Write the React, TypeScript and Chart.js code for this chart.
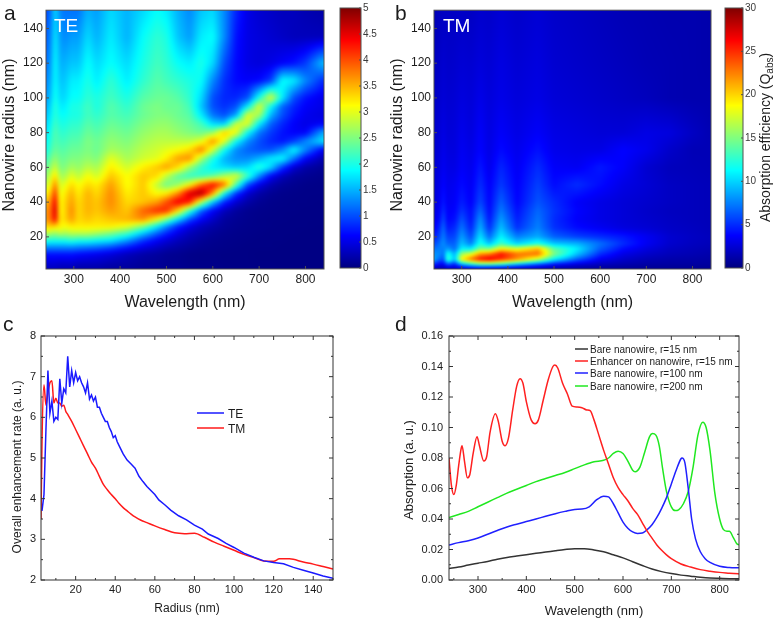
import React, { useEffect, useRef } from "react";
import { Chart, registerables } from "chart.js";

Chart.register(...registerables);

// ---------- panel a (TE) ----------
const teWavelengths = [240,250,260,270,280,295,310,330,350,380,415,450,480,500,525,550,575,600,625,650,675,700,725,750,775,800,840];
const teRadii = [2,10,14,18,22,26,30,35,40,45,50,55,60,65,70,75,80,85,90,95,100,110,120,135,150];
const teGrid = [
  [.3,.3,.3,.25,.25,.25,.2,.2,.2,.15,.15,.1,.1,.08,.08,.06,.05,.05,.04,.03,.03,.03,.03,.02,.02,.02,.02],
  [.7,.7,.7,.7,.7,.7,.65,.6,.55,.45,.3,.2,.15,.1,.08,.05,.04,.04,.03,.03,.03,.02,.02,.02,.02,.02,.02],
  [1.3,1.3,1.3,1.3,1.3,1.3,1.25,1.2,1.15,1.0,.75,.5,.35,.25,.18,.12,.08,.06,.05,.04,.03,.03,.03,.02,.02,.02,.02],
  [2.1,2.0,2.0,2.0,2.0,2.1,2.0,2.0,1.9,1.8,1.4,.9,.6,.45,.3,.2,.12,.08,.06,.05,.04,.03,.03,.03,.02,.02,.02],
  [2.8,2.7,2.6,2.8,2.7,2.8,2.8,2.8,2.7,2.5,2.2,1.6,1.1,.8,.5,.3,.2,.12,.08,.06,.05,.04,.03,.03,.03,.02,.02],
  [3.3,3.4,3.3,3.2,3.1,3.2,3.2,3.2,3.2,3.2,3.0,2.5,1.8,1.3,.8,.5,.3,.2,.12,.08,.06,.05,.04,.03,.03,.03,.02],
  [3.6,3.8,4.5,3.2,3.3,3.6,3.3,3.4,3.3,3.4,3.5,3.7,3.1,2.5,1.7,1.0,.6,.35,.15,.1,.07,.05,.04,.04,.03,.03,.03],
  [3.6,3.8,4.7,3.1,3.3,3.7,3.3,3.5,3.4,3.6,3.4,3.9,4.2,4.2,3.3,2.1,1.1,.6,.3,.15,.08,.06,.05,.04,.04,.03,.03],
  [3.4,3.7,4.5,3.1,3.3,3.6,3.3,3.5,3.4,3.7,3.3,3.4,3.6,4.0,4.5,4.3,2.8,1.6,.8,.4,.2,.1,.06,.05,.04,.04,.03],
  [3.1,3.4,4.2,3.0,3.2,3.5,3.2,3.5,3.3,3.7,3.2,3.4,3.1,3.2,3.7,4.6,4.9,3.7,1.9,.9,.4,.2,.1,.06,.05,.04,.04],
  [2.8,3.1,3.8,2.9,3.0,3.3,3.1,3.3,3.2,3.6,3.1,3.4,2.8,2.4,2.6,3.1,3.9,4.4,3.9,2.3,1.0,.5,.25,.12,.08,.05,.04],
  [2.5,2.9,3.3,2.7,2.7,3.0,2.8,3.1,2.9,3.4,3.1,3.4,3.3,2.8,2.3,2.1,2.1,2.3,2.7,3.0,2.2,1.3,.6,.3,.15,.1,.05],
  [2.3,2.6,2.9,2.5,2.5,2.7,2.6,2.8,2.7,3.2,2.9,3.2,3.4,3.6,3.3,2.6,2.1,1.8,1.7,1.6,1.7,2.1,1.7,.9,.4,.2,.1],
  [2.1,2.4,2.6,2.4,2.4,2.5,2.5,2.6,2.5,3.0,2.7,2.9,3.0,3.2,3.6,3.7,2.7,2.0,1.5,1.3,1.3,1.5,1.8,1.9,1.2,.6,.2],
  [1.9,2.2,2.4,2.3,2.3,2.4,2.4,2.5,2.4,2.7,2.6,2.8,2.9,3.0,3.1,3.3,3.8,2.9,1.9,1.3,1.1,1.0,1.0,1.3,1.9,1.3,.5],
  [1.8,2.1,2.3,2.2,2.2,2.3,2.3,2.5,2.4,2.6,2.5,2.7,2.8,2.8,2.8,2.8,3.0,3.7,3.0,1.9,1.3,1.0,.8,.7,.9,1.3,1.8],
  [1.7,2.0,2.3,2.1,2.1,2.2,2.2,2.4,2.3,2.5,2.4,2.6,2.7,2.7,2.6,2.5,2.4,2.6,3.4,3.1,1.9,1.2,.9,.7,.6,.6,1.5],
  [1.6,1.9,2.2,2.0,2.0,2.1,2.1,2.3,2.2,2.4,2.3,2.5,2.6,2.6,2.5,2.4,2.2,1.7,1.6,2.9,3.0,1.8,1.1,.8,.6,.5,.6],
  [1.5,1.8,2.1,1.9,1.9,2.0,2.0,2.2,2.1,2.3,2.2,2.4,2.5,2.5,2.4,2.3,1.8,1.2,1.0,1.4,3.0,2.7,1.5,1.0,.7,.55,.45],
  [1.4,1.7,2.1,1.8,1.8,2.0,2.0,2.2,2.0,2.3,2.1,2.4,2.5,2.4,2.4,2.2,1.6,1.0,.85,1.0,1.8,3.0,1.9,1.1,.8,.6,.5],
  [1.3,1.6,2.0,1.7,1.7,1.9,1.9,2.1,2.0,2.2,2.0,2.3,2.4,2.4,2.3,2.1,1.7,1.0,.8,.8,1.0,2.0,3.0,1.8,1.0,.7,.5],
  [1.2,1.5,1.9,1.6,1.6,1.8,1.8,2.0,1.8,2.1,1.8,2.1,2.3,2.2,2.1,2.0,1.9,1.3,.85,.65,.6,.65,.9,1.9,1.8,1.3,.8],
  [1.1,1.4,1.9,1.5,1.5,1.6,1.6,1.9,1.7,1.9,1.7,2.0,2.2,2.1,1.9,1.8,2.0,1.7,1.0,.65,.5,.45,.5,.6,.7,.9,1.6],
  [1.0,1.3,1.8,1.4,1.3,1.4,1.4,1.7,1.5,1.8,1.5,1.9,2.1,2.0,1.6,1.4,1.8,1.9,1.3,.7,.5,.45,.4,.35,.3,.3,.3],
  [.9,1.2,1.7,1.3,1.2,1.2,1.2,1.5,1.4,1.7,1.5,1.7,1.9,1.8,1.5,1.3,1.6,1.7,1.3,.8,.5,.4,.35,.3,.3,.25,.2],
];

// ---------- panel b (TM) ----------
const tmWavelengths = [240,250,260,270,285,300,320,340,360,385,420,465,500,550,600,650,700,750,800,840];
const tmRadii = [2,4,7,10,13,16,20,25,30,35,40,50,60,70,80,100,120,150];
const tmGrid = [
  [2,1.5,1.5,2,2,2.5,3,3.2,3,2.8,2.2,1.8,1.2,1,.8,.7,.6,.6,.6,.6],
  [5,3.5,3.4,6,4.6,8.5,11,13,13,12,9,6,4,2.6,1.8,1.4,1.1,1,1,.9],
  [9,7,6,13,9.5,19,23,26,27,25,22,17,11,6.5,3.4,2.2,1.6,1.3,1.2,1.1],
  [8,8,7,12,9,16,18,22,23,26,23,23,15,9.5,5,3,2.2,1.7,1.5,1.3],
  [7,7.5,7.5,8.4,7,11,11,15,15,19,18,21,14,10.8,6.4,4,2.8,2,1.7,1.5],
  [5.6,6.8,8,6.6,6.6,9.5,7.5,12,9.5,13,10,12,9.6,9,7,5,3.4,2.3,1.9,1.7],
  [4.4,5.6,7.5,5.6,5.8,8.4,6,10.5,7,11,7.5,8.8,6.6,5.6,5,4.4,3.4,2.4,2,1.8],
  [3.6,4.6,6.8,4.4,5,7.2,4.8,9,5.2,9.5,5.2,7.6,5.2,4,3.4,2.8,2.5,2.1,1.9,1.7],
  [3,3.8,5.8,3.8,4.2,6.2,4.2,8,4.4,8.4,4.6,7.2,5,3.6,3,2.6,2.3,2,1.8,1.7],
  [2.8,3.4,5,3.6,3.8,5.2,4,6.8,4,7.4,4.2,6.8,5.2,3.8,3,2.6,2.2,1.9,1.8,1.7],
  [2.6,3.2,4.4,3.4,3.6,4.6,3.6,5.8,3.8,6.6,3.8,6.2,5,3.6,3,2.6,2.3,2,1.8,1.7],
  [2.5,3,3.8,3.2,3.4,4,3.4,5,3.6,5.4,3.6,5.6,4,5,4,3,2.5,2,1.8,1.7],
  [2.4,2.8,3.4,3,3,3.6,3.2,4.4,3.2,4.8,3.4,5,3.6,3.4,4.4,3.6,2.4,1.8,1.7,1.6],
  [2.3,2.6,3.2,2.8,2.8,3.4,3,3.8,3,4,3.2,4.2,3.2,3,3,3.8,3.2,2.2,1.6,1.6],
  [2.2,2.5,3,2.6,2.7,3.2,2.8,3.6,2.9,3.6,3,3.6,3,2.8,2.6,2.6,3,2.8,2,1.5],
  [2,2.3,2.6,2.4,2.5,2.8,2.6,3.1,2.7,3.1,2.7,3,2.6,2.4,2.2,2,1.8,1.5,1.4,1.4],
  [1.8,2.1,2.4,2.2,2.3,2.5,2.4,2.7,2.5,2.9,2.5,2.8,2.4,2.2,2,1.8,1.6,1.5,1.4,1.3],
  [1.5,1.8,2,2,2,2.1,2,2.3,2.2,2.5,2.2,2.5,2.2,2,1.8,1.6,1.5,1.4,1.4,1.3],
];

// ---------- colour bars ----------
const teBarLevels = [0,0.5,1,1.5,2,2.5,3,3.5,4,4.5,5];
const tmBarLevels = [0,5,10,15,20,25,30];
const teBarTicks = ["0","0.5","1","1.5","2","2.5","3","3.5","4","4.5","5"];

// ---------- panel c ----------
const teRadius = [3,4,5,6,7,8,9,10,11,12,13,14,15,16,17,18,19,20,21,22,23,24,25,26,27,28,29,30,31,32,33,34,35,36,37,38,39,40,41,42,44,46,48,50,52,54,56,58,60,62,65,68,72,76,80,84,87,92,96,100,105,110,115,120,125,130,135,140,145,150];
const teRate = [3.7,4.1,5.7,7.15,6.1,6.4,5.9,6.0,5.95,6.95,6.35,6.7,6.6,7.5,6.75,7.15,6.85,7.1,6.9,7.0,6.85,6.75,6.6,6.85,6.45,6.55,6.4,6.5,6.25,6.25,6.1,6.0,5.9,5.9,5.75,5.65,5.5,5.55,5.4,5.3,5.1,4.95,4.85,4.75,4.55,4.42,4.3,4.2,4.1,3.97,3.85,3.72,3.58,3.48,3.35,3.25,3.13,3.02,2.9,2.8,2.66,2.56,2.47,2.43,2.4,2.31,2.24,2.17,2.1,2.04];
const tmRadius = [2.5,3,4,5,6,7,8,9,10,11,12,13,14,15,16,18,20,22,24,26,28,30,32,34,36,38,40,42,44,46,48,50,53,56,60,65,70,75,80,85,90,95,100,105,110,115,120,123,128,135,140,145,150];
const tmRate = [3.5,5.4,6.8,6.3,6.6,6.85,6.9,6.35,6.47,6.35,6.35,6.27,6.3,6.15,6.07,5.9,5.7,5.5,5.3,5.1,4.9,4.75,4.55,4.35,4.22,4.1,4.0,3.88,3.78,3.7,3.62,3.55,3.47,3.41,3.33,3.24,3.16,3.14,3.15,3.05,2.93,2.83,2.73,2.63,2.55,2.47,2.46,2.52,2.52,2.44,2.39,2.33,2.27];

// ---------- panel d ----------
const blackNm = [240,260,280,300,320,340,360,380,400,420,440,460,480,500,520,540,560,580,600,620,640,660,680,700,720,740,760,780,800,820,840];
const blackAbs = [.0075,.0085,.0098,.011,.0122,.0136,.0148,.0157,.0166,.0175,.0183,.0192,.02,.0205,.0205,.0197,.0185,.0165,.0145,.012,.0095,.0072,.0055,.0042,.0032,.0025,.0018,.0013,.0011,.0009,.0008];
const redNm = [240,245,250,255,260,265,267,272,278,283,290,298,303,312,318,325,336,342,350,356,363,372,380,387,393,400,410,418,425,435,445,455,459,465,475,485,495,505,515,525,532,540,550,560,570,580,590,600,610,620,630,640,650,660,670,680,690,700,720,740,760,780,800,820,840];
const redAbs = [.08,.062,.056,.062,.075,.086,.088,.078,.067,.069,.083,.094,.088,.078,.081,.097,.109,.104,.091,.088,.093,.112,.127,.132,.129,.117,.105,.1025,.105,.118,.131,.14,.141,.139,.129,.122,.114,.1135,.113,.1115,.111,.105,.095,.085,.076,.067,.0605,.056,.052,.047,.043,.0375,.032,.0275,.023,.0195,.0165,.014,.0105,.0085,.0068,.0058,.005,.0045,.004];
const blueNm = [240,260,280,300,320,340,360,380,400,420,440,460,480,500,515,530,545,560,570,580,590,600,610,620,630,640,650,660,670,680,690,700,710,720,722,728,735,742,750,760,770,780,800,820,840];
const blueAbs = [.023,.0245,.0258,.0275,.03,.0325,.0348,.0366,.0383,.04,.0418,.0435,.045,.0463,.0465,.048,.0525,.055,.0545,.05,.044,.038,.034,.0315,.0305,.0308,.033,.0362,.041,.047,.054,.063,.072,.0795,.08,.077,.06,.04,.027,.0185,.014,.0115,.009,.0082,.008];
const greenNm = [240,260,280,300,320,340,360,380,400,420,440,460,480,500,520,540,560,570,580,590,600,610,620,625,635,645,655,661,668,675,682,690,700,708,715,725,735,745,755,765,772,780,790,800,808,815,820,828,835,840];
const greenAbs = [.041,.043,.045,.048,.051,.054,.057,.0595,.062,.0645,.0665,.0685,.0705,.073,.0755,.0775,.0785,.08,.083,.0845,.083,.078,.072,.071,.074,.084,.094,.096,.095,.088,.073,.058,.048,.0455,.046,.05,.058,.074,.095,.1035,.1,.085,.057,.04,.033,.032,.032,.028,.024,.023];

// ---------- ticks and labels ----------
const wavelengthTicks = [300,400,500,600,700,800];
const wavelengthMinor = [250,350,450,550,650,750,850];
const radiusTicks = [20,40,60,80,100,120,140];
const rateTicks = [2,3,4,5,6,7,8];
const rateMinor = [2.5,3.5,4.5,5.5,6.5,7.5];
const radiusMinor = [10,30,50,70,90,110,130,150];
const absTicks = [0,.02,.04,.06,.08,.1,.12,.14,.16];
const absMinor = [.01,.03,.05,.07,.09,.11,.13,.15];
const cLegend = ["TE","TM"];
const dLegend = ["Bare nanowire, r=15 nm","Enhancer on nanowire, r=15 nm","Bare nanowire, r=100 nm","Bare nanowire, r=200 nm"];

const SANS = '"Liberation Sans", Arial, sans-serif';
const INK = "#1c1c1c";

const clamp01 = (v: number) => Math.max(0, Math.min(1, v));
function jet(t: number): [number, number, number] {
  return [clamp01(1.5 - Math.abs(4 * t - 3)) * 255, clamp01(1.5 - Math.abs(4 * t - 2)) * 255, clamp01(1.5 - Math.abs(4 * t - 1)) * 255];
}
function bracket(arr: number[], v: number): [number, number] {
  if (v <= arr[0]) return [0, 0];
  const n = arr.length - 1;
  if (v >= arr[n]) return [n - 1, 1];
  let i = 0;
  while (i < n - 1 && arr[i + 1] < v) i++;
  return [i, (v - arr[i]) / (arr[i + 1] - arr[i])];
}

// Paints a value grid through the chart's own scales.
function heatPlugin(xs: number[], ys: number[], grid: number[][], vmax: number, blur: number) {
  return {
    id: "heat",
    beforeDatasetsDraw(chart: any) {
      const a = chart.chartArea;
      const sx = chart.scales.x, sy = chart.scales.y;
      const w = Math.round(a.right - a.left), h = Math.round(a.bottom - a.top);
      const off = document.createElement("canvas");
      off.width = w; off.height = h;
      const octx = off.getContext("2d")!;
      const img = octx.createImageData(w, h);
      const cols = new Array(w).fill(0).map((_, i) => bracket(xs, sx.getValueForPixel(a.left + i + 0.5)));
      for (let j = 0; j < h; j++) {
        const [r, fr] = bracket(ys, sy.getValueForPixel(a.top + j + 0.5));
        const r0 = grid[r], r1 = grid[Math.min(r + 1, ys.length - 1)];
        for (let i = 0; i < w; i++) {
          const [c, fc] = cols[i];
          const c1 = Math.min(c + 1, xs.length - 1);
          const v = (r0[c] ?? 0) * (1 - fr) * (1 - fc) + (r0[c1] ?? 0) * (1 - fr) * fc + (r1[c] ?? 0) * fr * (1 - fc) + (r1[c1] ?? 0) * fr * fc;
          const [cr, cg, cb] = jet(v / vmax);
          const k = (j * w + i) * 4;
          img.data[k] = cr; img.data[k + 1] = cg; img.data[k + 2] = cb; img.data[k + 3] = 255;
        }
      }
      octx.putImageData(img, 0, 0);
      const ctx = chart.ctx;
      ctx.save();
      ctx.beginPath();
      ctx.rect(a.left, a.top, a.right - a.left, a.bottom - a.top);
      ctx.clip();
      ctx.drawImage(off, a.left, a.top, a.right - a.left, a.bottom - a.top);
      if (blur > 0) {
        ctx.filter = `blur(${blur}px)`;
        ctx.drawImage(off, a.left, a.top, a.right - a.left, a.bottom - a.top);
        ctx.filter = "none";
      }
      ctx.restore();
    },
  };
}

type Ticks = { xMaj?: number[]; xMin?: number[]; yMaj?: number[]; yMin?: number[]; maj: number; min: number; color: string; mirror: boolean; mirrorOnly?: boolean };
// Frame and inward tick marks.
function framePlugin(t: Ticks) {
  return {
    id: "frameTicks",
    afterDatasetsDraw(chart: any) {
      const a = chart.chartArea, ctx = chart.ctx;
      const sx = chart.scales.x, sy = chart.scales.y;
      ctx.save();
      ctx.strokeStyle = t.color;
      ctx.lineWidth = 1;
      ctx.strokeRect(a.left, a.top, a.right - a.left, a.bottom - a.top);
      ctx.beginPath();
      const xt = (vals: number[] | undefined, len: number) => (vals || []).forEach((v) => {
        const p = sx.getPixelForValue(v);
        if (p < a.left || p > a.right) return;
        ctx.moveTo(p, a.bottom); ctx.lineTo(p, a.bottom - len);
        if (t.mirror) { ctx.moveTo(p, a.top); ctx.lineTo(p, a.top + len); }
      });
      const yt = (vals: number[] | undefined, len: number) => (vals || []).forEach((v) => {
        const p = sy.getPixelForValue(v);
        if (p < a.top || p > a.bottom) return;
        if (!t.mirrorOnly) { ctx.moveTo(a.left, p); ctx.lineTo(a.left + len, p); }
        if (t.mirror) { ctx.moveTo(a.right, p); ctx.lineTo(a.right - len, p); }
      });
      xt(t.xMaj, t.maj); xt(t.xMin, t.min); yt(t.yMaj, t.maj); yt(t.yMin, t.min);
      ctx.stroke();
      ctx.restore();
    },
  };
}

type Note = { text: string; x: number; y: number; font: string; color?: string; rot?: boolean; center?: boolean };
type Key = { text: string; color: string; x0: number; x1: number; y: number; tx: number; ty: number; font: string; lw: number };
// Panel letters, rotated titles and in-plot keys.
function notesPlugin(notes: Note[], keys: Key[] = []) {
  return {
    id: "notes",
    afterDraw(chart: any) {
      const ctx = chart.ctx;
      notes.forEach((n) => {
        ctx.save();
        ctx.font = n.font;
        ctx.fillStyle = n.color || INK;
        ctx.translate(n.x, n.y);
        if (n.rot) ctx.rotate(-Math.PI / 2);
        ctx.textAlign = n.center ? "center" : "left";
        ctx.textBaseline = n.center ? "middle" : "alphabetic";
        ctx.fillText(n.text, 0, 0);
        ctx.restore();
      });
      keys.forEach((k) => {
        ctx.save();
        ctx.strokeStyle = k.color;
        ctx.lineWidth = k.lw;
        ctx.beginPath(); ctx.moveTo(k.x0, k.y); ctx.lineTo(k.x1, k.y); ctx.stroke();
        ctx.font = k.font;
        ctx.fillStyle = INK;
        ctx.textBaseline = "alphabetic";
        ctx.fillText(k.text, k.tx, k.ty);
        ctx.restore();
      });
    },
  };
}

const qabsPlugin = {
  id: "qabs",
  afterDraw(chart: any) {
    const ctx = chart.ctx;
    ctx.save();
    ctx.translate(50, 222);
    ctx.rotate(-Math.PI / 2);
    ctx.fillStyle = INK;
    ctx.textBaseline = "alphabetic";
    ctx.font = `14px ${SANS}`;
    const a = "Absorption efficiency (Q";
    ctx.fillText(a, 0, 0);
    let x = ctx.measureText(a).width;
    ctx.font = `10px ${SANS}`;
    ctx.fillText("abs", x, 3);
    x += ctx.measureText("abs").width;
    ctx.font = `14px ${SANS}`;
    ctx.fillText(")", x, 0);
    ctx.restore();
  },
};

function setTicks(values: number[]) {
  return (s: any) => { s.ticks = values.map((value) => ({ value })); };
}
function xy(xs: number[], ys: number[]) { return xs.map((x, i) => ({ x, y: ys[i] })); }
function cells(xs: number[], ys: number[], grid: number[][]) {
  const out: any[] = [];
  ys.forEach((y, j) => xs.forEach((x, i) => out.push({ x, y, v: grid[j][i] })));
  return out;
}

function heatConfig(o: any) {
  return {
    type: "scatter",
    data: { datasets: [{ data: cells(o.xs, o.ys, o.grid), pointRadius: 0, showLine: false }] },
    plugins: [heatPlugin(o.xs, o.ys, o.grid, o.vmax, o.blur),
      framePlugin({ xMaj: wavelengthTicks, yMaj: radiusTicks, maj: 3, min: 0, color: "#505050", mirror: false }),
      notesPlugin(o.notes)],
    options: {
      animation: false, responsive: false,
      layout: { padding: o.padding },
      plugins: { legend: { display: false }, title: { display: false }, tooltip: { enabled: false } },
      scales: {
        x: {
          type: "linear", min: 240, max: 840,
          afterBuildTicks: setTicks(wavelengthTicks), afterFit: (s: any) => { s.height = o.axisH; },
          grid: { display: false, drawTicks: false }, border: { display: false },
          ticks: { padding: 3, maxRotation: 0, autoSkip: false, color: INK, font: { size: 12, family: SANS }, callback: (v: number) => String(v) },
          title: { display: true, text: "Wavelength (nm)", color: INK, font: { size: 16, family: SANS }, padding: 0 },
        },
        y: {
          type: "linear", min: 1.5, max: 150.5,
          afterBuildTicks: setTicks(radiusTicks), afterFit: (s: any) => { s.width = o.axisW; },
          grid: { display: false, drawTicks: false }, border: { display: false },
          ticks: { padding: 3, autoSkip: false, color: INK, font: { size: 12, family: SANS }, callback: (v: number) => String(v) },
        },
      },
    },
  };
}

function barConfig(o: any) {
  const grid = o.levels.map((v: number) => [v, v]);
  return {
    type: "scatter",
    data: { datasets: [{ data: cells([0, 1], o.levels, grid), pointRadius: 0, showLine: false }] },
    plugins: [heatPlugin([0, 1], o.levels, grid, o.levels[o.levels.length - 1], 0),
      framePlugin({ yMaj: o.levels, maj: 2, min: 0, color: "#505050", mirror: true, mirrorOnly: true }),
      ...(o.extra || [])],
    options: {
      animation: false, responsive: false,
      layout: { padding: o.padding },
      plugins: { legend: { display: false }, title: { display: false }, tooltip: { enabled: false } },
      scales: {
        x: { type: "linear", min: 0, max: 1, display: false },
        y: {
          type: "linear", position: "right", min: 0, max: o.levels[o.levels.length - 1],
          afterBuildTicks: setTicks(o.levels), afterFit: (s: any) => { s.width = o.axisW; },
          grid: { display: false, drawTicks: false }, border: { display: false },
          ticks: { padding: 2, autoSkip: false, color: "#3a3a3a", font: { size: 10, family: SANS }, callback: o.label },
        },
      },
    },
  };
}

function lineConfig(o: any) {
  return {
    type: "line",
    data: { datasets: o.datasets },
    plugins: [framePlugin(o.frame), notesPlugin(o.notes, o.keys)],
    options: {
      animation: false, responsive: false,
      layout: { padding: o.padding },
      elements: { point: { radius: 0 } },
      plugins: { legend: { display: false }, title: { display: false }, tooltip: { enabled: false } },
      scales: {
        x: {
          type: "linear", min: o.xMin, max: o.xMax,
          afterBuildTicks: setTicks(o.xTicks), afterFit: (s: any) => { s.height = o.axisH; },
          grid: { display: false, drawTicks: false }, border: { display: false },
          ticks: { padding: 3.4, maxRotation: 0, autoSkip: false, color: INK, font: { size: 11, family: SANS }, callback: (v: number) => String(v) },
          title: { display: true, text: o.xTitle, color: INK, font: { size: o.xTitleSize, family: SANS }, padding: o.xTitlePad },
        },
        y: {
          type: "linear", min: o.yMin, max: o.yMax,
          afterBuildTicks: setTicks(o.yTicks), afterFit: (s: any) => { s.width = o.axisW; },
          grid: { display: false, drawTicks: false }, border: { display: false },
          ticks: { padding: o.yPad, autoSkip: false, color: INK, font: { size: 11, family: SANS }, callback: o.yLabel },
        },
      },
    },
  };
}

const line = (xs: number[], ys: number[], color: string, monotone = false) => ({
  data: xy(xs, ys), borderColor: color, borderWidth: 1.5, fill: false,
  ...(monotone ? { cubicInterpolationMode: "monotone" } : {}),
});

const PANELS = [
  { left: 0, top: 0, w: 335, h: 312 },
  { left: 335, top: 0, w: 55, h: 312 },
  { left: 390, top: 0, w: 330, h: 312 },
  { left: 720, top: 0, w: 55, h: 312 },
  { left: 0, top: 312, w: 345, h: 310 },
  { left: 390, top: 312, w: 385, h: 310 },
];

function configs(): any[] {
  const letter = `21px ${SANS}`;
  return [
    heatConfig({
      xs: teWavelengths, ys: teRadii, grid: teGrid, vmax: 5, blur: 2, axisH: 43, axisW: 46,
      padding: { top: 8, right: 11, left: 0, bottom: 0 },
      notes: [
        { text: "a", x: 4, y: 20, font: letter },
        { text: "TE", x: 54, y: 32, font: `19px ${SANS}`, color: "#ffffff" },
        { text: "Nanowire radius (nm)", x: 10, y: 135, font: `16px ${SANS}`, rot: true, center: true },
      ],
    }),
    barConfig({
      levels: teBarLevels, axisW: 29, padding: { top: 8, left: 5, right: 0, bottom: 44 },
      label: (_v: number, i: number) => teBarTicks[i],
    }),
    heatConfig({
      xs: tmWavelengths, ys: tmRadii, grid: tmGrid, vmax: 30, blur: 1.5, axisH: 43, axisW: 44,
      padding: { top: 8, right: 9, left: 0, bottom: 0 },
      notes: [
        { text: "b", x: 5, y: 20, font: letter },
        { text: "TM", x: 53, y: 32, font: `19px ${SANS}`, color: "#ffffff" },
        { text: "Nanowire radius (nm)", x: 8, y: 135, font: `16px ${SANS}`, rot: true, center: true },
      ],
    }),
    barConfig({
      levels: tmBarLevels, axisW: 32, padding: { top: 7, left: 5, right: 0, bottom: 44 },
      label: (v: number) => String(v), extra: [qabsPlugin],
    }),
    lineConfig({
      datasets: [line(teRadius, teRate, "#1a1aff"), line(tmRadius, tmRate, "#ff1a1a", true)],
      xMin: 2.5, xMax: 150, yMin: 2, yMax: 8, xTicks: radiusTicks, yTicks: rateTicks,
      yLabel: (v: number) => String(v), yPad: 5,
      frame: { xMaj: radiusTicks, xMin: radiusMinor, yMaj: rateTicks, yMin: rateMinor, maj: 4, min: 2, color: "#333333", mirror: true },
      xTitle: "Radius (nm)", xTitleSize: 12, xTitlePad: 5.8, axisH: 42, axisW: 41,
      padding: { top: 24, right: 12, left: 0, bottom: 0 },
      notes: [
        { text: "c", x: 3, y: 19, font: letter },
        { text: "Overall enhancement rate (a. u.)", x: 18, y: 155, font: `12px ${SANS}`, rot: true, center: true },
      ],
      keys: [
        { text: cLegend[0], color: "#1a1aff", x0: 197, x1: 224, y: 101, tx: 228, ty: 106, font: `12px ${SANS}`, lw: 1.5 },
        { text: cLegend[1], color: "#ff1a1a", x0: 197, x1: 224, y: 116, tx: 228, ty: 121, font: `12px ${SANS}`, lw: 1.5 },
      ],
    }),
    lineConfig({
      datasets: [
        line(blackNm, blackAbs, "#333333", true), line(redNm, redAbs, "#ff2020", true),
        line(blueNm, blueAbs, "#2020ff", true), line(greenNm, greenAbs, "#20e820", true),
      ],
      xMin: 240, xMax: 840, yMin: 0, yMax: .16, xTicks: wavelengthTicks, yTicks: absTicks,
      yLabel: (v: number) => v.toFixed(2), yPad: 6,
      frame: { xMaj: wavelengthTicks, xMin: wavelengthMinor, yMaj: absTicks, yMin: absMinor, maj: 4, min: 2, color: "#333333", mirror: true },
      xTitle: "Wavelength (nm)", xTitleSize: 13, xTitlePad: 3.2, axisH: 42, axisW: 59,
      padding: { top: 24, right: 36, left: 0, bottom: 0 },
      notes: [
        { text: "d", x: 5, y: 19, font: letter },
        { text: "Absorption (a. u.)", x: 19, y: 158, font: `13px ${SANS}`, rot: true, center: true },
      ],
      keys: [
        { text: dLegend[0], color: "#333333", x0: 185, x1: 198, y: 37, tx: 200, ty: 41, font: `10px ${SANS}`, lw: 1.5 },
        { text: dLegend[1], color: "#ff2020", x0: 185, x1: 198, y: 49, tx: 200, ty: 53, font: `10px ${SANS}`, lw: 1.5 },
        { text: dLegend[2], color: "#2020ff", x0: 185, x1: 198, y: 61, tx: 200, ty: 65, font: `10px ${SANS}`, lw: 1.5 },
        { text: dLegend[3], color: "#20e820", x0: 185, x1: 198, y: 74, tx: 200, ty: 78, font: `10px ${SANS}`, lw: 1.5 },
      ],
    }),
  ];
}

export default function App() {
  const refs = useRef<(HTMLCanvasElement | null)[]>([]);
  useEffect(() => {
    const cfgs = configs();
    const charts = cfgs.map((c, i) => new Chart(refs.current[i] as HTMLCanvasElement, c));
    return () => charts.forEach((c) => c.destroy());
  }, []);
  return (
    <div>
      {PANELS.map((p, i) => (
        <canvas
          key={i}
          ref={(el) => { refs.current[i] = el; }}
          width={p.w}
          height={p.h}
          style={{ position: "absolute", left: p.left, top: p.top, width: p.w, height: p.h, display: "block", filter: "blur(0.4px)" }}
        />
      ))}
    </div>
  );
}
